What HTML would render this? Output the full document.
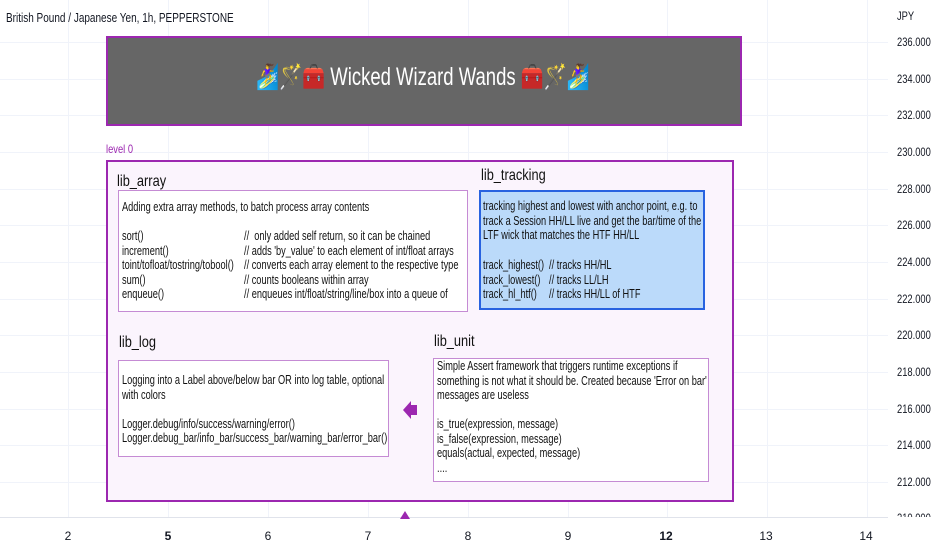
<!DOCTYPE html>
<html><head><meta charset="utf-8">
<style>
*{margin:0;padding:0;box-sizing:border-box}
body{width:932px;height:550px;overflow:hidden;background:#fff;position:relative;font-family:"Liberation Sans","DejaVu Sans",sans-serif;color:#131722}
.a{position:absolute}
.t{position:absolute;white-space:pre;transform:scaleX(.71);transform-origin:0 0;font-size:13px;line-height:14.5px;color:#111}
.hl{position:absolute;left:0;width:888px;height:1px;background:#f0f3fa}
.vl{position:absolute;top:0;height:517px;width:1px;background:#f0f3fa}
.p{position:absolute;left:897px;font-size:12px;transform:scaleX(.78);transform-origin:0 0;color:#131722}
.x{position:absolute;top:529px;font-size:12px;width:20px;text-align:center;color:#131722}
.box{position:absolute;background:#fff;border:1.5px solid #c58bd4}
.h{position:absolute;font-size:16px;transform:scaleX(.8);transform-origin:0 0;white-space:pre;color:#111}
</style></head><body>
<div class="vl" style="left:68px"></div><div class="vl" style="left:168px"></div><div class="vl" style="left:268px"></div><div class="vl" style="left:368px"></div><div class="vl" style="left:468px"></div><div class="vl" style="left:568px"></div><div class="vl" style="left:667px"></div><div class="vl" style="left:767px"></div><div class="vl" style="left:867px"></div>
<div class="hl" style="top:42px"></div><div class="hl" style="top:79px"></div><div class="hl" style="top:115px"></div><div class="hl" style="top:152px"></div><div class="hl" style="top:189px"></div><div class="hl" style="top:225px"></div><div class="hl" style="top:262px"></div><div class="hl" style="top:299px"></div><div class="hl" style="top:335px"></div><div class="hl" style="top:372px"></div><div class="hl" style="top:409px"></div><div class="hl" style="top:445px"></div><div class="hl" style="top:482px"></div>
<div class="a" style="left:0;top:517px;width:888px;height:1px;background:#e0e3eb"></div>

<div class="a" style="left:6px;top:11px;font-size:12.5px;transform:scaleX(.8);transform-origin:0 0;white-space:pre">British Pound / Japanese Yen, 1h, PEPPERSTONE</div>
<div class="p" style="top:9px">JPY</div>
<div class="p" style="top:35px">236.000</div><div class="p" style="top:72px">234.000</div><div class="p" style="top:108px">232.000</div><div class="p" style="top:145px">230.000</div><div class="p" style="top:182px">228.000</div><div class="p" style="top:218px">226.000</div><div class="p" style="top:255px">224.000</div><div class="p" style="top:292px">222.000</div><div class="p" style="top:328px">220.000</div><div class="p" style="top:365px">218.000</div><div class="p" style="top:402px">216.000</div><div class="p" style="top:438px">214.000</div><div class="p" style="top:475px">212.000</div>
<div class="p" style="top:511px;height:6px;overflow:hidden">210.000</div>

<div class="x" style="left:58px">2</div><div class="x" style="left:158px;font-weight:bold">5</div><div class="x" style="left:258px">6</div><div class="x" style="left:358px">7</div><div class="x" style="left:458px">8</div><div class="x" style="left:558px">9</div><div class="x" style="left:656px;font-weight:bold">12</div><div class="x" style="left:756px">13</div><div class="x" style="left:856px">14</div>

<div class="a" style="left:106px;top:36px;width:636px;height:90px;background:#666;border:2px solid #9c27b0"></div>
<div class="a" style="left:256px;top:63px;font-size:25px;color:#fff;white-space:pre;transform:scaleX(.74);transform-origin:0 0;font-family:'Liberation Sans','Noto Color Emoji',sans-serif">🏄‍♀️🪄🧰 Wicked Wizard Wands 🧰🪄🏄‍♀️</div>

<div class="a" style="left:106px;top:142px;font-size:12px;color:#9c27b0;transform:scaleX(.78);transform-origin:0 0">level 0</div>
<div class="a" style="left:106px;top:160px;width:628px;height:342px;background:#fbf4fd;border:2px solid #9c27b0"></div>

<div class="h" style="left:117px;top:173px">lib_array</div>
<div class="box" style="left:118px;top:190px;width:350px;height:122px"></div>
<div class="t" style="left:122px;top:200px">Adding extra array methods, to batch process array contents</div>
<div class="t" style="left:122px;top:229px">sort()
increment()
toint/tofloat/tostring/tobool()
sum()
enqueue()</div>
<div class="t" style="left:244px;top:229px">//  only added self return, so it can be chained
// adds 'by_value' to each element of int/float arrays
// converts each array element to the respective type
// counts booleans within array
// enqueues int/float/string/line/box into a queue of</div>

<div class="h" style="left:481px;top:167px">lib_tracking</div>
<div class="a" style="left:479px;top:190px;width:226px;height:120px;background:#bbdafa;border:2px solid #2862e0"></div>
<div class="t" style="left:483px;top:199px">tracking highest and lowest with anchor point, e.g. to
track a Session HH/LL live and get the bar/time of the
LTF wick that matches the HTF HH/LL</div>
<div class="t" style="left:483px;top:258px">track_highest()
track_lowest()
track_hl_htf()</div>
<div class="t" style="left:549px;top:258px">// tracks HH/HL
// tracks LL/LH
// tracks HH/LL of HTF</div>

<div class="h" style="left:119px;top:334px">lib_log</div>
<div class="box" style="left:118px;top:360px;width:271px;height:97px"></div>
<div class="t" style="left:122px;top:373px">Logging into a Label above/below bar OR into log table, optional
with colors

Logger.debug/info/success/warning/error()
Logger.debug_bar/info_bar/success_bar/warning_bar/error_bar()</div>

<div class="h" style="left:434px;top:333px">lib_unit</div>
<div class="box" style="left:433px;top:358px;width:276px;height:124px"></div>
<div class="t" style="left:437px;top:359px">Simple Assert framework that triggers runtime exceptions if
something is not what it should be. Created because 'Error on bar'
messages are useless

is_true(expression, message)
is_false(expression, message)
equals(actual, expected, message)
....</div>

<svg class="a" style="left:0;top:0" width="932" height="550">
<polygon points="403,410 411,401 411,405 417,405 417,415 411,415 411,419" fill="#9c27b0"/>
<polygon points="400,519 405,511 410,519" fill="#9c27b0"/>
</svg>
</body></html>
